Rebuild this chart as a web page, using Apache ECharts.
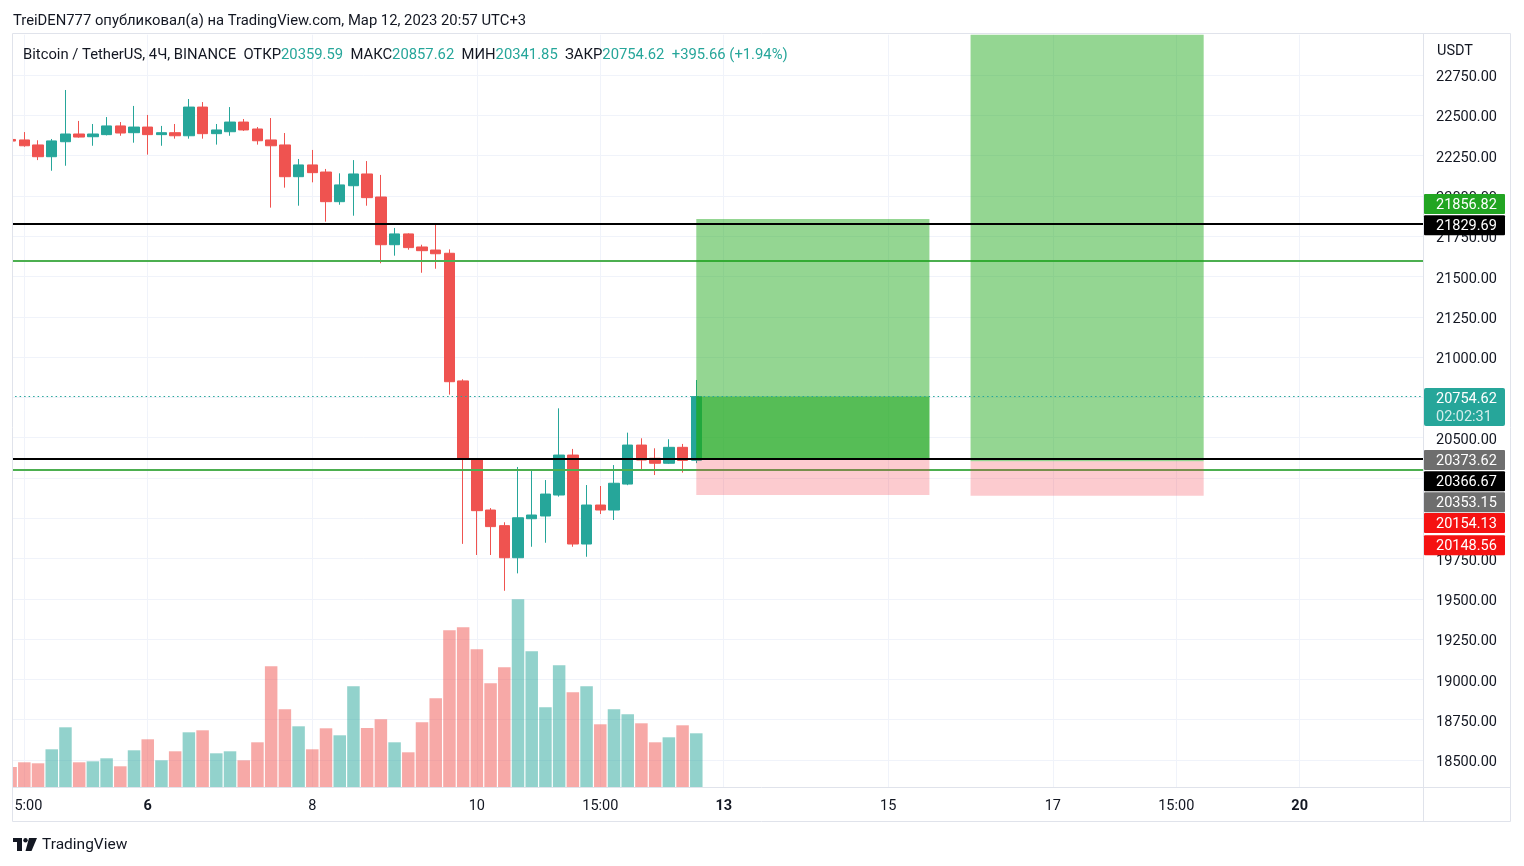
<!DOCTYPE html>
<html><head><meta charset="utf-8">
<script src="https://cdn.jsdelivr.net/npm/echarts@6/dist/echarts.min.js"></script>
<style>html,body{margin:0;padding:0;background:#fff}#c{width:1524px;height:866px}</style>
</head><body><div id="c"></div>
<script>
// ---- data (4h bars, index 0 = 4 Mar 11:00 UTC+3, index 50 = 12 Mar 19:00) ----
const opens  = [22350,22347,22316,22243,22336,22384,22367,22380,22434,22392,22427,22380,22392,22373,22551,22386,22398,22458,22415,22347,22316,22119,22192,22148,21964,22063,22136,21993,21697,21764,21683,21664,21644,20852,20361,20051,19954,19755,19997,20014,20144,20392,19840,20082,20051,20212,20454,20372,20341,20440,20359.59];
const closes = [22340,22311,22243,22341,22384,22365,22384,22434,22390,22427,22380,22392,22373,22551,22386,22409,22458,22409,22342,22311,22119,22192,22144,21964,22068,22136,21989,21697,21764,21679,21660,21641,20847,20366,20047,19948,19755,20003,20020,20150,20392,19840,20082,20051,20217,20454,20361,20341,20440,20358.96,20754.62];
const lows   = [22335,22305,22222,22156,22187,22361,22311,22375,22373,22330,22256,22311,22355,22355,22355,22318,22373,22403,22318,21927,22051,21939,22084,21840,21945,21877,21939,21582,21629,21666,21523,21548,20767,19841,19772,19772,19550,19658,19823,19848,20134,19823,19761,20026,19989,20205,20299,20268,20337,20283,20341.85];
const highs  = [22352,22396,22345,22353,22657,22465,22446,22489,22458,22558,22502,22434,22446,22601,22582,22446,22551,22477,22427,22483,22390,22229,22285,22167,22140,22222,22216,22130,21801,21768,21697,21824,21668,20862,20366,20063,19975,20318,20299,20237,20682,20430,20206,20200,20330,20531,20496,20434,20490,20461,20857.62];
const volumes = [6000,7410,7110,11310,17910,7410,7710,8610,6210,11010,14310,8010,10710,16410,17010,10110,10710,8010,13410,36210,23310,18210,11310,17610,15510,30210,17700,20310,13410,10410,19410,26610,47010,47910,41310,31110,35910,56310,40710,23910,36510,28410,30210,18810,23310,21810,19110,13410,14910,18510,16110];
const xTickIdx  = [1,10,22,34,43,52,64,76,85,94];
const xTickText = ['15:00','6','8','10','15:00','13','15','17','15:00','20'];
const xTickBold = [false,true,false,false,false,true,false,false,false,true];
const blackLevels = [21829.69, 20366.67];
const greenLevels = [21600, 20301];
// long positions
const posStart  = [50, 70];
const posEnd    = [67, 87];
const posEntry  = [20373.62, 20353.15];
const posTarget = [21856.82, 23400];
const posStop   = [20154.13, 20148.56];
const posActive = [1, 0];
const tagPrices = [21856.82, 21829.69, 20373.62, 20366.67, 20353.15, 20154.13, 20148.56];
const timerText = '02:02:31';

// ---- styles ----
const FONT = 'Roboto';
const UP = '#26a69a', DOWN = '#ef5350';
const UPV = 'rgba(38,166,154,0.5)', DOWNV = 'rgba(239,83,80,0.5)';
const GRIDC = '#f0f3fa', FRAME = '#e0e3eb', TXT = '#131722';
const tagColors = ['#22a522','#000000','#6e6e6e','#000000','#6e6e6e','#f51212','#f51212'];
const tagDy = [-15, 2, 2, 22, 41, 29.6, 51];
const AXF = 14.5;

const bars = opens.map((_, i) => i);
const last = bars.length - 1;
const cur = closes[last];
const chg = cur - closes[last - 1];
const pct = chg / closes[last - 1] * 100;
const volMax = Math.max(...volumes) * 4.008;

const chart = echarts.init(document.getElementById('c'), null, {renderer: 'canvas'});

const header = '{d|Bitcoin / TetherUS, 4Ч, BINANCE}  {d|ОТКР}{v|' + opens[last].toFixed(2) + '}  {d|МАКС}{v|' + highs[last].toFixed(2) +
  '}  {d|МИН}{v|' + lows[last].toFixed(2) + '}  {d|ЗАКР}{v|' + closes[last].toFixed(2) + '}  {v|' + (chg >= 0 ? '+' : '') + chg.toFixed(2) +
  ' (' + (pct >= 0 ? '+' : '') + pct.toFixed(2) + '%)}';

const HF = 14.8;
const option = {
  animation: false,
  backgroundColor: '#fff',
  textStyle: {fontFamily: FONT},
  title: [
    {text: 'TreiDEN777 опубликовал(а) на TradingView.com, Мар 12, 2023 20:57 UTC+3', left: 8, top: 9,
     textStyle: {fontSize: HF, fontWeight: 'normal', color: TXT, fontFamily: FONT}},
    {text: header, left: 18, top: 43,
     textStyle: {fontSize: HF, fontWeight: 'normal', color: TXT, fontFamily: FONT,
       rich: {d: {fontSize: HF, color: TXT, fontFamily: FONT}, v: {fontSize: HF, color: UP, fontFamily: FONT}}}}
  ],
  grid: [
    {left: 10.6, right: 100.9, top: 34.7, height: 765.6},
    {left: 10.6, right: 100.9, top: 34.7, bottom: 79}
  ],
  xAxis: [
    {type: 'value', gridIndex: 0, min: 0, max: 103, show: false},
    {type: 'value', gridIndex: 1, min: 0, max: 103, interval: 1,
     axisLine: {show: false}, axisTick: {show: false}, splitLine: {show: false},
     axisLabel: {margin: 12, color: TXT, fontSize: AXF, fontFamily: FONT, showMinLabel: true, showMaxLabel: true,
       formatter: v => { const k = xTickIdx.indexOf(Math.round(v)); if (k < 0 || Math.abs(v - Math.round(v)) > 1e-6) return ''; return xTickBold[k] ? '{b|' + xTickText[k] + '}' : xTickText[k]; },
       rich: {b: {fontWeight: 'bold', fontSize: AXF, color: TXT, fontFamily: FONT}}}}
  ],
  yAxis: [
    {type: 'value', gridIndex: 0, position: 'right', min: 18250, max: 23000, interval: 250,
     axisLine: {show: false}, axisTick: {show: false},
     splitLine: {show: true, showMinLine: false, showMaxLine: false, lineStyle: {color: GRIDC, width: 1}},
     axisLabel: {margin: 13, color: TXT, fontSize: AXF, fontFamily: FONT, showMinLabel: false, showMaxLabel: false,
       formatter: v => '{p|' + v.toFixed(2) + '}',
       rich: {p: {fontSize: AXF, color: TXT, fontFamily: FONT, padding: [5, 0, 0, 0]}}}},
    {type: 'value', gridIndex: 1, min: 0, max: volMax, show: false, splitLine: {show: false}}
  ],
  series: [
    {type: 'bar', name: 'vol', xAxisIndex: 1, yAxisIndex: 1, z: 1, barWidth: 12.5, clip: true,
     data: bars.map(i => ({value: [i, volumes[i]], itemStyle: {color: closes[i] >= opens[i] ? UPV : DOWNV}})),
     markLine: {z: 0.5, silent: true, symbol: ['none', 'none'], label: {show: false}, animation: false,
       lineStyle: {color: GRIDC, type: 'solid', width: 1},
       data: xTickIdx.map(i => ({xAxis: i}))}},
    {type: 'candlestick', name: 'BTCUSDT', xAxisIndex: 0, yAxisIndex: 0, z: 2, barWidth: 11, clip: true,
     encode: {x: 0, y: [1, 2, 3, 4]},
     data: bars.map(i => [i, opens[i], closes[i], lows[i], highs[i]]),
     itemStyle: {color: UP, color0: DOWN, borderColor: UP, borderColor0: DOWN, borderWidth: 1},
     markLine: {z: 3, silent: true, symbol: ['none', 'none'], label: {show: false}, animation: false,
       lineStyle: {color: '#4caf50', type: 'solid', width: 2},
       data: greenLevels.map(v => ({yAxis: v}))}},
    {type: 'custom', name: 'positions', xAxisIndex: 0, yAxisIndex: 0, z: 4, clip: true,
     encode: {x: [0, 1], y: [2, 3, 4]},
     data: posStart.map((s, k) => [s, posEnd[k], posEntry[k], posTarget[k], posStop[k], posActive[k]]),
     renderItem: (params, api) => {
       const x1 = api.coord([api.value(0), api.value(2)])[0];
       const x2 = api.coord([api.value(1), api.value(2)])[0];
       const yE = api.coord([api.value(0), api.value(2)])[1];
       const yT = api.coord([api.value(0), api.value(3)])[1];
       const yS = api.coord([api.value(0), api.value(4)])[1];
       const children = [
         {type: 'rect', shape: {x: x1, y: yT, width: x2 - x1, height: yE - yT}, style: {fill: 'rgba(25,167,21,0.466)'}},
         {type: 'rect', shape: {x: x1, y: yE, width: x2 - x1, height: yS - yE + 1.5}, style: {fill: 'rgba(242,54,69,0.26)'}}
       ];
       if (api.value(5)) {
         const yC = api.coord([api.value(0), cur])[1];
         children.push({type: 'rect', shape: {x: x1, y: yC, width: x2 - x1, height: yE - yC}, style: {fill: 'rgba(35,170,37,0.55)'}});
       }
       return {type: 'group', children};
     },
     markLine: {z: 6, silent: true, symbol: ['none', 'none'], label: {show: false}, animation: false,
       data: blackLevels.map(v => ({yAxis: v, lineStyle: {color: '#000', width: 2, type: 'solid'}}))
         .concat([{yAxis: cur, lineStyle: {color: UP, width: 1, type: [1.5, 3]}}])}}
  ]
};
chart.setOption(option);

// ---- overlay: frame, price tags, logo ----
const g = [];
g.push({type: 'rect', z: 100, shape: {x: 0, y: 30, width: 12.5, height: 800}, style: {fill: '#fff'}});
g.push({type: 'rect', z: 101, shape: {x: 12.5, y: 33.5, width: 1498, height: 788}, style: {fill: 'none', stroke: FRAME, lineWidth: 1}});
g.push({type: 'line', z: 101, shape: {x1: 12.5, y1: 787.5, x2: 1510.5, y2: 787.5}, style: {stroke: FRAME, lineWidth: 1}});
g.push({type: 'line', z: 101, shape: {x1: 1423.5, y1: 33.5, x2: 1423.5, y2: 821.5}, style: {stroke: FRAME, lineWidth: 1}});
g.push({type: 'text', z: 101, x: 1437, y: 51, style: {text: 'USDT', fill: TXT, font: AXF + 'px ' + FONT, verticalAlign: 'middle'}});

tagPrices.forEach((p, k) => {
  const yc = chart.convertToPixel({yAxisIndex: 0}, p) + tagDy[k];
  g.push({type: 'rect', z: 110, shape: {x: 1424, y: yc - 10, width: 81, height: 20, r: 1}, style: {fill: tagColors[k]}});
  g.push({type: 'text', z: 111, x: 1436, y: yc + 1, style: {text: p.toFixed(2), fill: '#fff', font: AXF + 'px ' + FONT, verticalAlign: 'middle'}});
});
{
  const yc = chart.convertToPixel({yAxisIndex: 0}, cur) + 1.5;
  g.push({type: 'rect', z: 110, shape: {x: 1424, y: yc - 10, width: 81, height: 38, r: 2}, style: {fill: UP}});
  g.push({type: 'text', z: 111, x: 1436, y: yc + 1, style: {text: cur.toFixed(2), fill: '#fff', font: AXF + 'px ' + FONT, verticalAlign: 'middle'}});
  g.push({type: 'text', z: 111, x: 1436, y: yc + 19, style: {text: timerText, fill: 'rgba(255,255,255,0.8)', font: AXF + 'px ' + FONT, verticalAlign: 'middle'}});
}
// TradingView logo
g.push({type: 'rect', z: 101, shape: {x: 13, y: 838, width: 9, height: 4}, style: {fill: '#131722'}});
g.push({type: 'rect', z: 101, shape: {x: 17, y: 838, width: 5, height: 13}, style: {fill: '#131722'}});
g.push({type: 'circle', z: 101, shape: {cx: 25.5, cy: 840.2, r: 2.2}, style: {fill: '#131722'}});
g.push({type: 'polygon', z: 101, shape: {points: [[29, 838], [37, 838], [31.5, 851], [25.5, 851]]}, style: {fill: '#131722'}});
g.push({type: 'text', z: 101, x: 42, y: 845, style: {text: 'TradingView', fill: '#131722', font: '15.5px ' + FONT, verticalAlign: 'middle'}});

chart.setOption({graphic: {elements: g}});
</script>
</body></html>
